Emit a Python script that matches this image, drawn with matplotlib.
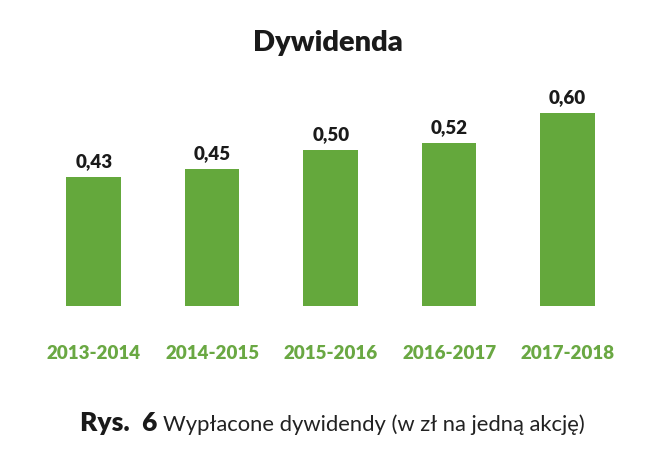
import matplotlib
matplotlib.use("Agg")
import matplotlib.pyplot as plt

# data
periods = ["2013-2014", "2014-2015", "2015-2016", "2016-2017", "2017-2018"]
dividends = [0.43, 0.45, 0.50, 0.52, 0.60]
value_labels = ["0,43", "0,45", "0,50", "0,52", "0,60"]

BAR_GREEN = "#64a83c"
LABEL_GREEN = "#6aa843"

plt.rcParams['font.family'] = ['Lato', 'DejaVu Sans']

fig = plt.figure(figsize=(6.56, 4.62), dpi=100)
ax = fig.add_axes([0.0526, 0.3377, 0.903, 0.489])

x = list(range(len(periods)))
bars = ax.bar(x, dividends, width=0.46, color=BAR_GREEN)

ax.set_xlim(-0.5, len(periods) - 0.5)
ax.set_ylim(0.087, 0.687)

# value labels above bars
for xi, v, lab in zip(x, dividends, value_labels):
    ax.annotate(lab, (xi, v), xytext=(0, 5), textcoords="offset points",
                ha="center", va="bottom", fontsize=13.5, fontweight="heavy",
                color="#1a1a1a")

ax.set_xticks(x)
ax.set_xticklabels(periods, fontsize=13.5, fontweight="heavy", color=LABEL_GREEN)
ax.tick_params(axis="x", length=0, pad=28)
ax.set_yticks([])
for s in ax.spines.values():
    s.set_visible(False)

fig.text(0.5, 0.907, "Dywidenda", ha="center", va="center",
         fontsize=21, fontweight="heavy", color="#1a1a1a")

# caption, bold part followed by regular part
fig.canvas.draw()
r = fig.canvas.get_renderer()
t1 = fig.text(0.122, 0.068, "Rys.  6", ha="left", va="baseline",
              fontsize=19, fontweight="heavy", color="#1a1a1a")
bb = t1.get_window_extent(renderer=r)
x2 = (bb.x1 + 6) / fig.bbox.width
fig.text(x2, 0.068, "Wypłacone dywidendy (w zł na jedną akcję)", ha="left",
         va="baseline", fontsize=15.8, fontweight="normal", color="#222222")

fig.savefig("out.png", dpi=100)
